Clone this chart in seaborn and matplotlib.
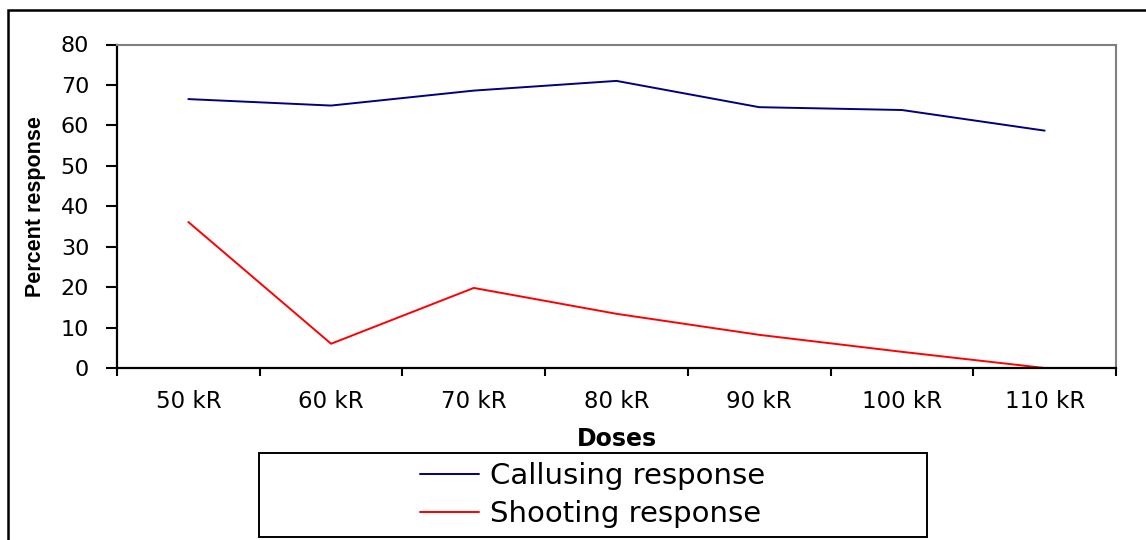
import matplotlib
matplotlib.use('Agg')
import matplotlib.pyplot as plt
import matplotlib.patches as mpatches
import pandas as pd
import seaborn as sns

doses = ['50 kR', '60 kR', '70 kR', '80 kR', '90 kR', '100 kR', '110 kR']
callusing = [66.5, 64.9, 68.6, 71.0, 64.5, 63.8, 58.7]
shooting = [36.1, 6.0, 19.8, 13.4, 8.2, 4.0, 0.0]
series_names = ['Callusing response', 'Shooting response']
y_ticks = [0, 10, 20, 30, 40, 50, 60, 70, 80]

sns.set_theme(style='white')
plt.rcParams['font.family'] = ['DejaVu Sans']

df = pd.DataFrame({
    'pos': list(range(len(doses))) * 2,
    'value': callusing + shooting,
    'series': [series_names[0]] * len(doses) + [series_names[1]] * len(doses),
})

fig = plt.figure(figsize=(11.46, 5.40), dpi=100)
ax = fig.add_axes([117 / 1146, 1 - 368 / 540, (1116 - 117) / 1146, (368 - 44.5) / 540])

sns.lineplot(data=df, x='pos', y='value', hue='series',
             palette={series_names[0]: '#000080', series_names[1]: '#FF0000'},
             linewidth=1.4, ax=ax, legend=True)

ax.set_xlim(-0.5, len(doses) - 0.5)
ax.set_ylim(0, 80)
ax.set_yticks(y_ticks)
ax.set_yticklabels([str(t) for t in y_ticks], fontsize=16, color='black')
ax.set_xticks(range(len(doses)))
ax.set_xticklabels(doses, fontsize=16.5, color='black')
ax.set_xticks([i - 0.5 for i in range(len(doses) + 1)], minor=True)
ax.tick_params(axis='x', which='major', length=0, pad=16)
ax.tick_params(axis='x', which='minor', length=5.5, width=1.5, color='black', direction='out', bottom=True)
ax.tick_params(axis='y', which='major', length=8, width=1.5, color='black', direction='out', left=True, pad=12)

for side in ['left', 'bottom']:
    ax.spines[side].set_color('black')
    ax.spines[side].set_linewidth(1.6)
for side in ['top', 'right']:
    ax.spines[side].set_color('#808080')
    ax.spines[side].set_linewidth(1.5)
    ax.spines[side].set_visible(True)

ax.set_xlabel('Doses', fontsize=17, fontweight='bold', color='black')
ax.xaxis.set_label_coords(0.5, -(427 - 368) / 323.5)
ax.set_ylabel('Percent response', fontsize=15.5, fontweight='bold', color='black',
              family=['Liberation Sans', 'DejaVu Sans'])
ax.yaxis.set_label_coords(-(117 - 46) / 999, 0.5)

handles, labels = ax.get_legend_handles_labels()
ax.get_legend().remove()
leg = fig.legend(handles, labels, loc='center', bbox_to_anchor=(593 / 1146, 1 - 495 / 540),
                 frameon=False, fontsize=21, handlelength=2.0, handletextpad=0.4,
                 labelspacing=0.36)
for line in leg.get_lines():
    line.set_linewidth(1.4)
for txt in leg.get_texts():
    txt.set_color('black')

# legend frame
fig.add_artist(mpatches.Rectangle((259 / 1146, 1 - 537 / 540), (927 - 259) / 1146, (537 - 453) / 540,
                                  transform=fig.transFigure, fill=False, edgecolor='black', linewidth=1.4))
# outer figure border (clipped at right and bottom)
fig.add_artist(mpatches.Rectangle((7.5 / 1146, -0.1), 1.2, 1.1 - 9.5 / 540,
                                  transform=fig.transFigure, fill=False, edgecolor='black', linewidth=1.8))

fig.savefig('out.png', dpi=100)
